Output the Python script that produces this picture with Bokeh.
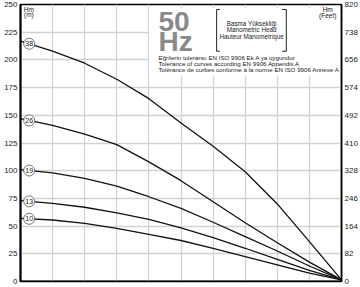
from bokeh.plotting import figure
from bokeh.models import Range1d, LinearAxis, FixedTicker, ColumnDataSource, Span
from bokeh.embed import file_html
from bokeh.resources import INLINE
from bokeh.core.properties import value
import numpy as np

# ---- data ----
flow = [0, 1, 2, 3, 4, 5, 6, 7, 8, 9, 10]
stages = ["38", "26", "19", "13", "10"]
head_38 = [217, 208, 197, 182.5, 165, 143, 122, 99, 70, 36, 1.5]
head_26 = [147, 141, 133, 123.5, 108, 91, 72, 53, 35, 17.5, 1.5]
head_19 = [101, 98, 93, 86, 76.5, 66, 53.5, 40.5, 27.5, 14, 1.5]
head_13 = [73, 70.5, 67, 62, 56, 48.5, 39.5, 30, 20, 10, 1.5]
head_10 = [57, 55.5, 52.5, 48, 42.5, 37, 30, 22.5, 15, 7.5, 1.5]
m_ticks = [0, 25, 50, 75, 100, 125, 150, 175, 200, 225, 250]
ft_ticks = [0, 82, 164, 246, 328, 410, 492, 574, 656, 738, 820]

curves = [head_38, head_26, head_19, head_13, head_10]

FONT = "Liberation Sans"

p = figure(width=360, height=287, x_range=Range1d(0, 10), y_range=Range1d(0, 250),
           output_backend="svg", toolbar_location=None,
           min_border_left=20, min_border_right=18, min_border_top=4, min_border_bottom=6)
p.background_fill_color = "white"
p.border_fill_color = "white"
p.outline_line_color = "black"
p.outline_line_width = 1.5

p.xaxis.visible = False
p.xgrid.ticker = FixedTicker(ticks=flow)
p.ygrid.ticker = FixedTicker(ticks=m_ticks)
for g in (p.xgrid, p.ygrid):
    g.grid_line_color = "#d2d2d2"
    g.grid_line_width = 1.3

ya = p.yaxis[0]
ya.ticker = FixedTicker(ticks=m_ticks)

p.extra_y_ranges = {"ft": Range1d(0, 820.2)}
ra = LinearAxis(y_range_name="ft", ticker=FixedTicker(ticks=ft_ticks))
p.add_layout(ra, "right")

for ax in (ya, ra):
    ax.major_tick_out = 0
    ax.major_tick_in = 0
    ax.minor_tick_out = 0
    ax.minor_tick_in = 0
    ax.major_label_standoff = 3
    ax.major_label_text_font = FONT
    ax.major_label_text_font_size = "8px"
    ax.major_label_text_color = "#222222"
ya.axis_line_width = 2
ra.axis_line_width = 1.5
ya.axis_line_color = "black"
ra.axis_line_color = "black"

p.add_layout(Span(location=0, dimension="width", line_color="black", line_width=2))

# white area behind the header text
p.quad(left=[4.0], right=[9.95], bottom=[186], top=[247], fill_color="white", line_color=None)

# curves
for c in curves:
    p.line(flow, c, line_color="#111111", line_width=1.3)

# stage labels
lab_x = 0.27
lab_y = [float(np.interp(lab_x, flow, c)) for c in curves]
src = ColumnDataSource(dict(x=[lab_x] * len(stages), y=lab_y, t=stages))
p.scatter("x", "y", source=src, size=11, fill_color="white", line_color="#555555", line_width=0.8)
p.text("x", "y", text="t", source=src, text_align="center", text_baseline="middle",
       text_font=value(FONT), text_font_size="7px", text_color="#222222")

# unit labels
p.text([0.26, 0.26], [245.8, 240.6], text=["Hm", "(m)"], text_align="center", text_baseline="middle",
       text_font=value(FONT), text_font_size="6.5px", text_color="#222222")
p.text([9.57, 9.57], [245.8, 240.4], text=["Hm", "(Feet)"], text_align="center", text_baseline="middle",
       text_font=value(FONT), text_font_size="6.5px", text_color="#222222")

# 50 Hz
p.text([4.3], [235.0], text=["50"], text_align="left", text_baseline="alphabetic",
       text_font=value(FONT), text_font_size="28px", text_font_style="bold", text_color="#8a8a8a")
p.text([4.3], [216.3], text=["Hz"], text_align="left", text_baseline="alphabetic",
       text_font=value(FONT), text_font_size="28px", text_font_style="bold", text_color="#8a8a8a")

# bracket
p.multi_line([[6.21, 6.11, 6.11, 6.21], [8.15, 8.28, 8.28, 8.15]],
             [[245.5, 245.5, 207.8, 207.8], [245.5, 245.5, 207.8, 207.8]],
             line_color="#222222", line_width=1)
p.text([7.2, 7.2, 7.2], [233.2, 227.2, 221.2],
       text=["Basma Yüksekliği", "Manometric Head", "Hauteur Manometrique"],
       text_align="center", text_baseline="middle",
       text_font=value(FONT), text_font_size="6.3px", text_color="#222222")

# tolerance text
p.text([4.3, 4.3, 4.3], [202.4, 197.0, 191.0],
       text=["Eğrilerin toleransı EN ISO 9906 Ek A ya uygundur",
             "Tolerance of curves according EN 9906 Appendix A",
             "Tolérance de curbes conforme à la norme EN ISO 9906 Annexe A"],
       text_align="left", text_baseline="middle",
       text_font=value(FONT), text_font_size="6.2px", text_color="#222222")

open("out.html", "w").write(file_html(p, INLINE))
